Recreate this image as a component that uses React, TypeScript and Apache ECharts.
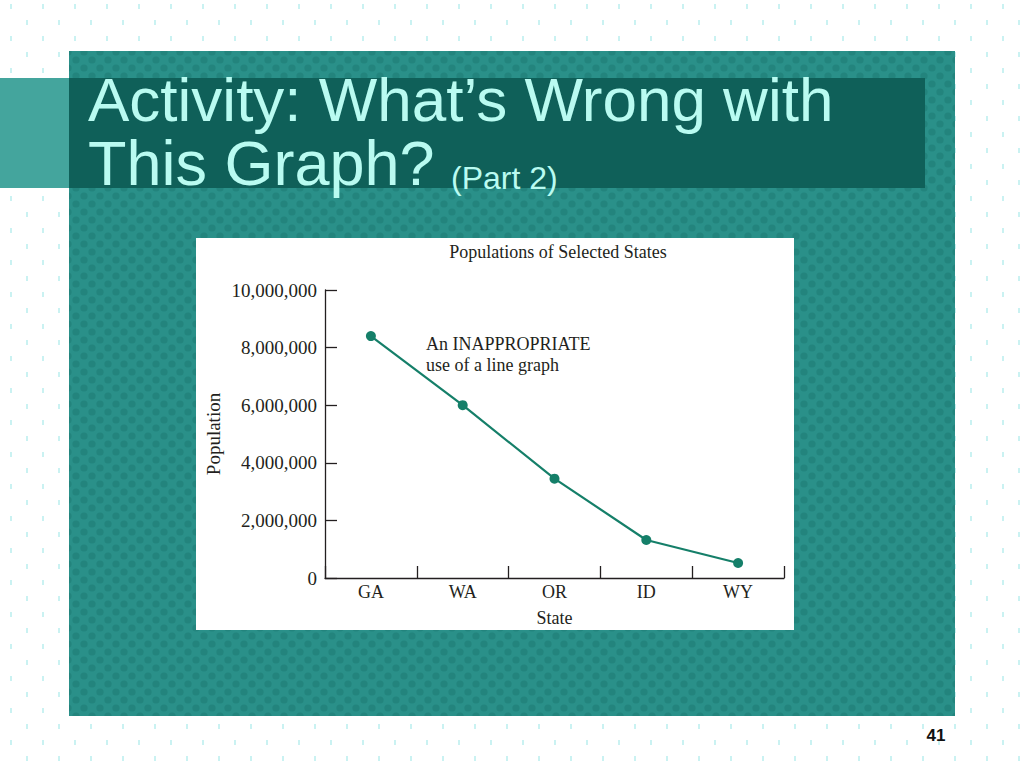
import React, { useEffect, useRef } from "react";
import * as echarts from "echarts";

const states = ["GA", "WA", "OR", "ID", "WY"];
const population = [8400000, 6000000, 3450000, 1320000, 520000];
const yMin = 0;
const yMax = 10000000;
const yStep = 2000000;

const chartTitle = "Populations of Selected States";
const noteLines = ["An INAPPROPRIATE", "use of a line graph"];
const slideTitle1 = "Activity: What\u2019s Wrong with";
const slideTitle2 = "This Graph?";
const slideTitle3 = "(Part 2)";
const pageNumber = "41";

function makePattern(c1: string, c2: string, size: number): string {
  const cv = document.createElement("canvas");
  cv.width = size * 2;
  cv.height = size * 2;
  const ctx = cv.getContext("2d");
  if (!ctx) return "";
  ctx.fillStyle = c1;
  ctx.fillRect(0, 0, size * 2, size * 2);
  ctx.fillStyle = c2;
  ctx.beginPath();
  ctx.arc(size / 2, size / 2, size * 0.45, 0, Math.PI * 2);
  ctx.arc(size * 1.5, size * 1.5, size * 0.45, 0, Math.PI * 2);
  ctx.fill();
  return cv.toDataURL();
}

function makeDots(): string {
  const cv = document.createElement("canvas");
  cv.width = 32;
  cv.height = 32;
  const ctx = cv.getContext("2d");
  if (!ctx) return "";
  ctx.fillStyle = "#ffffff";
  ctx.fillRect(0, 0, 32, 32);
  ctx.fillStyle = "rgba(90,215,215,0.32)";
  ctx.fillRect(10, 4, 2, 5);
  ctx.fillRect(26, 20, 2, 5);
  return cv.toDataURL();
}

export default function App() {
  const ref = useRef<HTMLDivElement>(null);
  useEffect(() => {
    if (!ref.current) return;
    const chart = echarts.init(ref.current, null, { renderer: "svg" });
    const teal = makePattern("#2a9089", "#23847d", 8);
    const dots = makeDots();
    const serif = "'Liberation Serif', 'DejaVu Serif', serif";
    const sans = "'Liberation Sans', Arial, sans-serif";
    const ink = "#231f20";
    const titleInk = "#b9fbf1";
    chart.setOption({
      animation: false,
      backgroundColor: "#ffffff",
      graphic: [
        { type: "rect", z: -11, shape: { x: 0, y: 0, width: 1024, height: 768 }, style: dots ? { fill: { image: dots, repeat: "repeat" } as any } : { fill: "#ffffff" } },
        { type: "rect", z: -9, shape: { x: 69, y: 51, width: 886, height: 665 }, style: teal ? { fill: { image: teal, repeat: "repeat" } as any } : { fill: "#27897f" } },
        { type: "rect", z: -8, shape: { x: 0, y: 78, width: 69, height: 110 }, style: { fill: "#44a59d" } },
        { type: "rect", z: -8, shape: { x: 69, y: 78, width: 856, height: 110 }, style: { fill: "#0f6059" } },
        { type: "text", z: 5, x: 88, y: 130, style: { text: slideTitle1, fill: titleInk, font: `62px ${sans}`, verticalAlign: "bottom" } },
        { type: "text", z: 5, x: 88, y: 194, style: { text: slideTitle2, fill: titleInk, font: `63px ${sans}`, verticalAlign: "bottom" } },
        { type: "text", z: 5, x: 451, y: 194, style: { text: slideTitle3, fill: titleInk, font: `32px ${sans}`, verticalAlign: "bottom" } },
        { type: "rect", z: -7, shape: { x: 196, y: 238, width: 598, height: 392 }, style: { fill: "#ffffff" } },
        { type: "text", z: 5, x: 426, y: 344, style: { text: noteLines[0], fill: ink, font: `18px ${serif}`, verticalAlign: "middle" } },
        { type: "text", z: 5, x: 426, y: 365, style: { text: noteLines[1], fill: ink, font: `18px ${serif}`, verticalAlign: "middle" } },
        { type: "text", z: 5, x: 936, y: 735, style: { text: pageNumber, fill: "#111111", font: `bold 17px ${sans}`, align: "center", verticalAlign: "middle" } },
      ],
      title: {
        text: chartTitle,
        left: 553,
        top: 238,
        textAlign: "center",
        textStyle: { fontFamily: serif, fontSize: 18, fontWeight: "normal", color: ink },
      },
      grid: { left: 325, right: 240, top: 290, bottom: 190, containLabel: false },
      xAxis: {
        type: "category",
        data: states,
        boundaryGap: true,
        name: "State",
        nameLocation: "middle",
        nameGap: 31,
        nameTextStyle: { fontFamily: serif, fontSize: 18, color: ink },
        axisLine: { show: true, lineStyle: { color: ink, width: 1.3 } },
        axisTick: { show: true, inside: true, length: 12, interval: 0, lineStyle: { color: ink, width: 1.3 } },
        axisLabel: { fontFamily: serif, fontSize: 18, color: ink, margin: 5, interval: 0 },
        splitLine: { show: false },
      },
      yAxis: {
        type: "value",
        min: yMin,
        max: yMax,
        interval: yStep,
        name: "Population",
        nameLocation: "middle",
        nameGap: 102,
        nameRotate: 90,
        nameTextStyle: { fontFamily: serif, fontSize: 19, color: ink },
        axisLine: { show: true, lineStyle: { color: ink, width: 1.3 } },
        axisTick: { show: true, inside: true, length: 12, lineStyle: { color: ink, width: 1.3 } },
        axisLabel: {
          fontFamily: serif,
          fontSize: 19,
          color: ink,
          margin: 8,
          formatter: (v: number) => v.toLocaleString("en-US"),
        },
        splitLine: { show: false },
      },
      series: [
        {
          type: "line",
          data: population,
          symbol: "circle",
          symbolSize: 10,
          lineStyle: { color: "#157f69", width: 2.2 },
          itemStyle: { color: "#157f69" },
        },
      ],
    });
    return () => chart.dispose();
  }, []);
  return <div ref={ref} style={{ position: "absolute", left: 0, top: 0, width: 1024, height: 768 }} />;
}
